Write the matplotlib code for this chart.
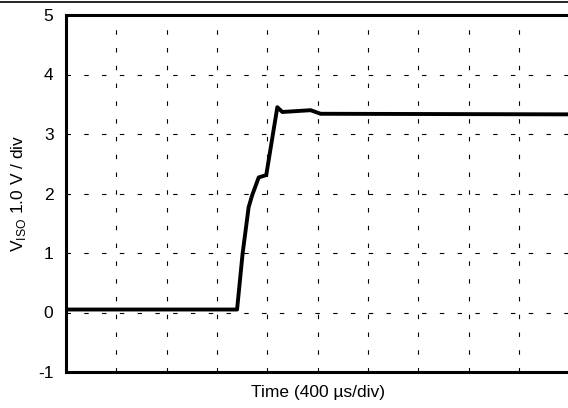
import numpy as np
import matplotlib
matplotlib.use('Agg')
import matplotlib.pyplot as plt
from matplotlib.lines import Line2D

plt.rcParams['font.family'] = ['Liberation Sans', 'DejaVu Sans']
plt.rcParams['mathtext.fontset'] = 'custom'
plt.rcParams['mathtext.rm'] = 'Liberation Sans'

# trace (time in us, voltage in V)
t_us = [0, 1360, 1404, 1452, 1480, 1532, 1592, 1680, 1720, 1944, 2024, 4000]
v_iso = [0.05, 0.05, 0.99, 1.77, 1.97, 2.27, 2.31, 3.45, 3.37, 3.40, 3.34, 3.33]

x_ticks = np.arange(0, 4001, 400)
y_ticks = [-1, 0, 1, 2, 3, 4, 5]

fig = plt.figure(figsize=(5.68, 4.08), dpi=100)
ax = fig.add_axes([66/568, 1-372/408, 1-66/568 + 0.002, (372-15)/408])

ax.plot(t_us, v_iso, color='black', lw=2.8, solid_joinstyle='round')

ax.set_xlim(0, 4000)
ax.set_ylim(-1, 5)
ax.set_xticks(x_ticks)
ax.set_yticks(y_ticks)
ax.set_xticklabels([])
ax.set_yticklabels([str(v) for v in y_ticks], fontsize=12.5)
ax.tick_params(length=0, pad=9)
ax.grid(True, color='black', lw=0.8, linestyle=(0, (4, 12)))

for s in ax.spines.values():
    s.set_linewidth(2.2)
ax.spines['right'].set_visible(False)

ax.set_xlabel('Time (400 µs/div)', fontsize=12.5, labelpad=0)
ax.set_ylabel(r'V$_{\mathrm{ISO}}$ 1.0 V / div', fontsize=12.5, labelpad=7)

fig.add_artist(Line2D([0, 1], [1-1.5/408, 1-1.5/408], color='black', lw=1.2,
                      transform=fig.transFigure))

fig.savefig('out.png', dpi=100)
